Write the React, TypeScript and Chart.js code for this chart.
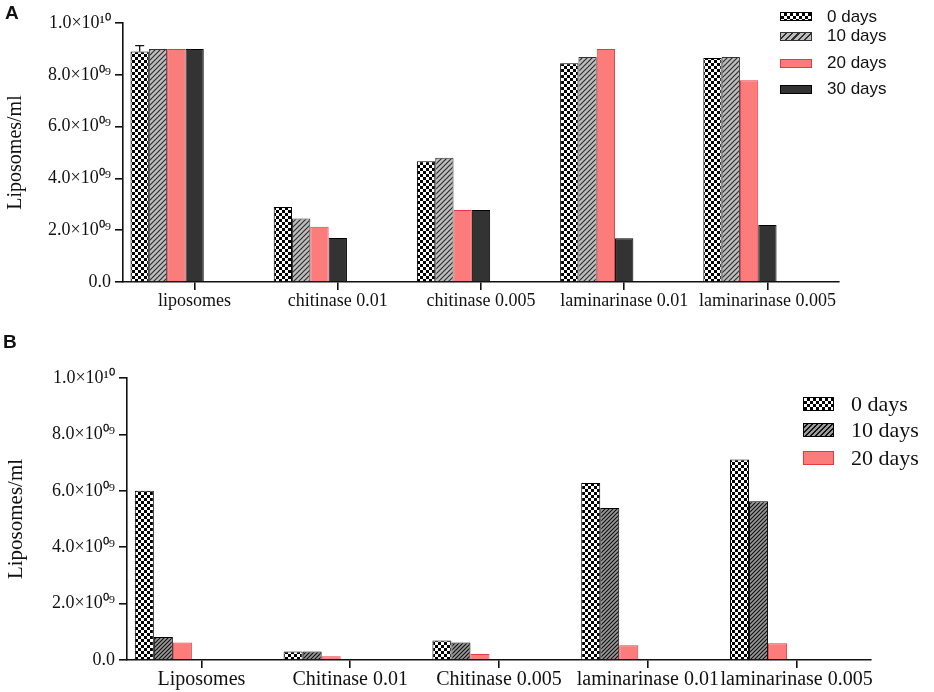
import React, { useEffect, useRef } from "react";
import { Chart, registerables } from "chart.js";

Chart.register(...registerables);

// ---------- data ----------
const categoriesA = ["liposomes", "chitinase 0.01", "chitinase 0.005", "laminarinase 0.01", "laminarinase 0.005"];
const categoriesB = ["Liposomes", "Chitinase 0.01", "Chitinase 0.005", "laminarinase 0.01", "laminarinase 0.005"];
const seriesNamesA = ["0 days", "10 days", "20 days", "30 days"];
const seriesNamesB = ["0 days", "10 days", "20 days"];

const a0 = [8.9e9, 2.9e9, 4.66e9, 8.45e9, 8.65e9];
const a0Err = [2.3e8, null, null, null, null];
const a10 = [9.0e9, 2.45e9, 4.8e9, 8.69e9, 8.69e9];
const a20 = [9.0e9, 2.13e9, 2.78e9, 9.0e9, 7.79e9];
const a30 = [9.0e9, 1.7e9, 2.78e9, 1.69e9, 2.2e9];
const a40 = [0, 0, 0, 4e7, 4e7];

const b0 = [6.0e9, 0.3e9, 0.69e9, 6.28e9, 7.11e9];
const b10 = [0.82e9, 0.3e9, 0.62e9, 5.39e9, 5.63e9];
const b20 = [0.62e9, 0.13e9, 0.21e9, 0.52e9, 0.59e9];

const emptySlot = [null, null, null, null, null];

const yTicks = [0, 2e9, 4e9, 6e9, 8e9, 1e10];
const yTickLabels = ["0.0", "2.0×10⁰⁹", "4.0×10⁰⁹", "6.0×10⁰⁹", "8.0×10⁰⁹", "1.0×10¹⁰"];
const yTitle = "Liposomes/ml";

// ---------- styling helpers ----------
const RED_FILL = "rgb(252,124,124)";
const RED_BORDER = "rgb(228,58,68)";
const DARK = "#333333";

function checker(cell: number) {
  const c = document.createElement("canvas");
  c.width = c.height = cell * 2;
  const x = c.getContext("2d")!;
  x.fillStyle = "#fff";
  x.fillRect(0, 0, cell * 2, cell * 2);
  x.fillStyle = "#000";
  x.fillRect(0, 0, cell, cell);
  x.fillRect(cell, cell, cell, cell);
  return x.createPattern(c, "repeat")!;
}

function hatch(bg: string, fg: string, s: number, lw: number) {
  const c = document.createElement("canvas");
  c.width = c.height = s;
  const x = c.getContext("2d")!;
  x.fillStyle = bg;
  x.fillRect(0, 0, s, s);
  x.strokeStyle = fg;
  x.lineWidth = lw;
  x.beginPath();
  x.moveTo(0, s);
  x.lineTo(s, 0);
  x.moveTo(-s / 2, s / 2);
  x.lineTo(s / 2, -s / 2);
  x.moveTo(s / 2, s * 1.5);
  x.lineTo(s * 1.5, s / 2);
  x.stroke();
  return x.createPattern(c, "repeat")!;
}

const errorBarPlugin = {
  id: "errorBars",
  afterDatasetsDraw(chart: any) {
    const ctx = chart.ctx;
    const y = chart.scales.y;
    chart.data.datasets.forEach((ds: any, di: number) => {
      const errs = ds.errors;
      if (!errs) return;
      const meta = chart.getDatasetMeta(di);
      meta.data.forEach((bar: any, i: number) => {
        const e = errs[i];
        const v = ds.data[i];
        if (e == null || v == null) return;
        const yTop = y.getPixelForValue(v + e);
        const yv = y.getPixelForValue(v);
        ctx.save();
        ctx.strokeStyle = "#111";
        ctx.lineWidth = 1.3;
        ctx.beginPath();
        ctx.moveTo(bar.x, yv);
        ctx.lineTo(bar.x, yTop);
        ctx.moveTo(bar.x - 4.5, yTop);
        ctx.lineTo(bar.x + 4.5, yTop);
        ctx.stroke();
        ctx.restore();
      });
    });
  },
};

function makeOptions(p: {
  padTop: number;
  padRight: number;
  yWidth: number;
  xHeight: number;
  xFont: number;
  yFont: number;
  titleFont: number;
}) {
  return {
    responsive: true,
    maintainAspectRatio: false,
    animation: false,
    layout: { padding: { left: 0, top: p.padTop, right: p.padRight, bottom: 0 } },
    plugins: { legend: { display: false }, tooltip: { enabled: false } },
    scales: {
      x: {
        offset: true,
        grid: {
          display: true,
          drawOnChartArea: false,
          drawTicks: true,
          tickLength: 8,
          color: "#111",
          lineWidth: 1.6,
          offset: false,
        },
        border: { display: true, color: "#111", width: 1.6 },
        ticks: {
          font: { family: "Liberation Serif", size: p.xFont },
          color: "#111",
          padding: 0,
          maxRotation: 0,
          minRotation: 0,
          autoSkip: false,
        },
        afterFit: (s: any) => {
          s.height = p.xHeight;
        },
      },
      y: {
        min: 0,
        max: 1e10,
        afterBuildTicks: (s: any) => {
          s.ticks = yTicks.map((v) => ({ value: v }));
        },
        grid: {
          drawOnChartArea: false,
          drawTicks: true,
          tickLength: 8,
          color: "#111",
          lineWidth: 1.6,
        },
        border: { display: true, color: "#111", width: 1.6 },
        ticks: {
          font: { family: "Liberation Serif", size: p.yFont },
          color: "#111",
          padding: 4,
          callback: (_v: any, i: number) => yTickLabels[i],
        },
        title: {
          display: true,
          text: yTitle,
          font: { family: "Liberation Serif", size: p.titleFont },
          color: "#111",
          padding: { top: 4, bottom: 0 },
        },
        afterFit: (s: any) => {
          s.width = p.yWidth;
        },
      },
    },
  };
}

const barCommon = { barPercentage: 1, categoryPercentage: 0.895, borderWidth: 1 };

// CSS legend swatches
const checkerCss: React.CSSProperties = {
  backgroundColor: "#fff",
  backgroundImage: "repeating-conic-gradient(#000 0 25%, #fff 0 50%)",
  backgroundSize: "6px 6px",
  border: "1px solid #000",
};
const hatchACss: React.CSSProperties = {
  backgroundImage: "repeating-linear-gradient(135deg, #bdbdbd 0 3px, #2e2e2e 3px 4.5px)",
  border: "1px solid #333",
};
const hatchBCss: React.CSSProperties = {
  backgroundImage: "repeating-linear-gradient(135deg, #9a9a9a 0 2px, #111 2px 3.5px)",
  border: "1px solid #000",
};
const redCss: React.CSSProperties = { backgroundColor: RED_FILL, border: `1px solid ${RED_BORDER}` };
const darkCss: React.CSSProperties = { backgroundColor: DARK, border: "1px solid #000" };

export default function App() {
  const refA = useRef<HTMLCanvasElement | null>(null);
  const refB = useRef<HTMLCanvasElement | null>(null);

  useEffect(() => {
    const chk = checker(3);
    const hA = hatch("#bdbdbd", "#2e2e2e", 5, 1.2);
    const hB = hatch("#9a9a9a", "#111", 4, 1.2);

    const chartA = new Chart(refA.current!, {
      type: "bar",
      data: {
        labels: categoriesA,
        datasets: [
          { label: seriesNamesA[0], data: a0, errors: a0Err, backgroundColor: chk, borderColor: "#000", ...barCommon } as any,
          { label: seriesNamesA[1], data: a10, backgroundColor: hA, borderColor: "#333", ...barCommon },
          { label: seriesNamesA[2], data: a20, backgroundColor: RED_FILL, borderColor: RED_BORDER, ...barCommon },
          { label: seriesNamesA[3], data: a30, backgroundColor: DARK, borderColor: "#000", ...barCommon },
          { label: "", data: a40, backgroundColor: "#2030c8", borderColor: "#2030c8", ...barCommon },
          { label: "", data: emptySlot, ...barCommon },
          { label: "", data: emptySlot, ...barCommon },
        ],
      },
      options: makeOptions({ padTop: 23, padRight: 95, yWidth: 123, xHeight: 48, xFont: 18, yFont: 18, titleFont: 20 }) as any,
      plugins: [errorBarPlugin],
    });

    const chartB = new Chart(refB.current!, {
      type: "bar",
      data: {
        labels: categoriesB,
        datasets: [
          { label: seriesNamesB[0], data: b0, backgroundColor: chk, borderColor: "#000", ...barCommon },
          { label: seriesNamesB[1], data: b10, backgroundColor: hB, borderColor: "#000", ...barCommon },
          { label: seriesNamesB[2], data: b20, backgroundColor: RED_FILL, borderColor: RED_BORDER, ...barCommon },
          { label: "", data: emptySlot, ...barCommon },
          { label: "", data: emptySlot, ...barCommon },
          { label: "", data: emptySlot, ...barCommon },
          { label: "", data: emptySlot, ...barCommon },
        ],
      },
      options: makeOptions({ padTop: 48, padRight: 63, yWidth: 127, xHeight: 32, xFont: 20, yFont: 18, titleFont: 21 }) as any,
    });

    return () => {
      chartA.destroy();
      chartB.destroy();
    };
  }, []);

  const legendA = [
    { name: seriesNamesA[0], cy: 16.7, css: checkerCss },
    { name: seriesNamesA[1], cy: 36.3, css: hatchACss },
    { name: seriesNamesA[2], cy: 63.3, css: redCss },
    { name: seriesNamesA[3], cy: 89.2, css: darkCss },
  ];
  const legendB = [
    { name: seriesNamesB[0], cy: 404, css: checkerCss },
    { name: seriesNamesB[1], cy: 430, css: hatchBCss },
    { name: seriesNamesB[2], cy: 458, css: redCss },
  ];

  return (
    <div style={{ position: "absolute", left: 0, top: 0, width: 934, height: 692, background: "#fff", overflow: "hidden" }}>
      <div style={{ position: "absolute", left: 0, top: 0, width: 934, height: 330 }}>
        <canvas ref={refA} />
      </div>
      <div style={{ position: "absolute", left: 0, top: 330, width: 934, height: 362 }}>
        <canvas ref={refB} />
      </div>

      <div style={{ position: "absolute", left: 5, top: 2, font: "bold 19px 'Liberation Sans', Arial, sans-serif", color: "#111" }}>A</div>
      <div style={{ position: "absolute", left: 3, top: 331, font: "bold 19px 'Liberation Sans', Arial, sans-serif", color: "#111" }}>B</div>

      {legendA.map((it) => (
        <React.Fragment key={"a" + it.name}>
          <div style={{ position: "absolute", left: 780, top: it.cy - 4.5, width: 32, height: 9, boxSizing: "border-box", ...it.css }} />
          <div
            style={{
              position: "absolute",
              left: 827,
              top: it.cy - 10,
              height: 20,
              lineHeight: "20px",
              font: "17px 'Liberation Sans', Arial, sans-serif",
              color: "#111",
              whiteSpace: "nowrap",
            }}
          >
            {it.name}
          </div>
        </React.Fragment>
      ))}

      {legendB.map((it) => (
        <React.Fragment key={"b" + it.name}>
          <div style={{ position: "absolute", left: 803, top: it.cy - 7, width: 31, height: 14, boxSizing: "border-box", ...it.css }} />
          <div
            style={{
              position: "absolute",
              left: 851,
              top: it.cy - 13,
              height: 26,
              lineHeight: "26px",
              font: "22px 'Liberation Serif', 'Times New Roman', serif",
              color: "#111",
              whiteSpace: "nowrap",
            }}
          >
            {it.name}
          </div>
        </React.Fragment>
      ))}
    </div>
  );
}
